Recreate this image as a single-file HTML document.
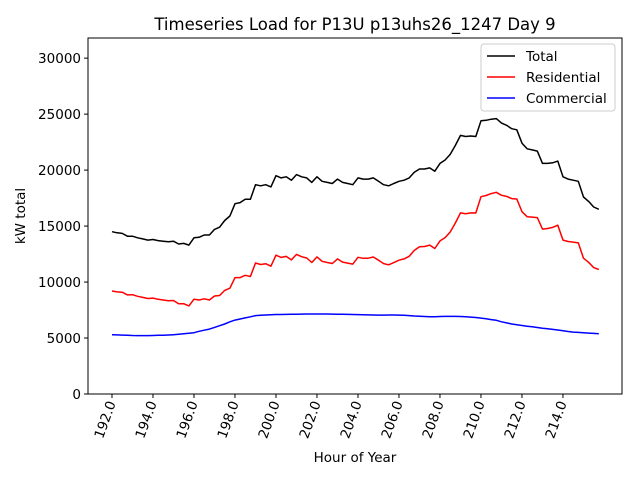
<!DOCTYPE html>
<html><head><meta charset="utf-8"><style>
body{margin:0;background:#fff}
svg text{font-family:"DejaVu Sans","Liberation Sans",sans-serif;fill:#000}
</style></head><body>
<svg id="chart" width="640" height="480">
<rect width="640" height="480" fill="#fff"/>
<text x="355" y="30" font-size="16.5" text-anchor="middle">Timeseries Load for P13U p13uhs26_1247  Day 9</text>
<g id="plot"></g>
<text x="355" y="462" font-size="13.5" text-anchor="middle">Hour of Year</text>
<text transform="translate(25,216) rotate(-90)" font-size="13.5" text-anchor="middle">kW total</text>
</svg>
<script>
const total=[14500,14400,14350,14100,14100,13950,13850,13750,13800,13700,13650,13600,13650,13400,13450,13300,13950,14000,14200,14200,14700,14900,15500,15900,17000,17100,17400,17400,18700,18600,18700,18500,19500,19300,19400,19100,19600,19400,19300,18900,19400,19000,18900,18800,19200,18900,18800,18700,19300,19200,19200,19300,19000,18700,18600,18800,19000,19100,19300,19800,20100,20100,20200,19900,20600,20900,21400,22200,23100,23000,23050,23000,24400,24450,24550,24600,24200,24000,23700,23600,22400,21900,21800,21700,20600,20600,20650,20800,19400,19200,19100,19000,17600,17200,16700,16500];
const residential=[9200,9120,9090,8850,8870,8730,8630,8530,8570,8460,8400,8330,8350,8070,8070,7870,8470,8400,8500,8400,8750,8800,9250,9450,10400,10400,10600,10500,11700,11570,11640,11420,12400,12200,12290,11980,12470,12260,12150,11750,12250,11850,11750,11660,12070,11780,11690,11600,12210,12120,12130,12240,11950,11650,11540,11740,11950,12070,12300,12830,13150,13180,13300,13000,13680,13970,14470,15270,16180,16100,16180,16170,17620,17730,17900,18020,17750,17650,17450,17420,16280,15840,15800,15760,14730,14780,14880,15080,13750,13620,13570,13500,12130,11760,11290,11120];
const commercial=[5300,5280,5260,5250,5230,5220,5220,5220,5230,5240,5250,5270,5300,5330,5380,5430,5480,5600,5700,5800,5950,6100,6250,6450,6600,6700,6800,6900,7000,7030,7060,7080,7100,7100,7110,7120,7130,7140,7150,7150,7150,7150,7150,7140,7130,7120,7110,7100,7090,7080,7070,7060,7050,7050,7060,7060,7050,7030,7000,6970,6950,6920,6900,6900,6920,6930,6930,6930,6920,6900,6870,6830,6780,6720,6650,6580,6450,6350,6250,6180,6120,6060,6000,5940,5870,5820,5770,5720,5650,5580,5530,5500,5470,5440,5410,5380];
const startHour=192, stepHours=0.25;
const xTicks=[192,194,196,198,200,202,204,206,208,210,212,214];
const yTicks=[0,5000,10000,15000,20000,25000,30000];
const L=88,R=622,T=38,B=394,xMin=190.83,xMax=216.88,yMin=0,yMax=31800;
const X=v=>L+(v-xMin)/(xMax-xMin)*(R-L);
const Y=v=>B-(v-yMin)/(yMax-yMin)*(B-T);
const NS='http://www.w3.org/2000/svg';
const g=document.getElementById('plot');
function mk(t,a){const e=document.createElementNS(NS,t);for(const k in a)e.setAttribute(k,a[k]);g.appendChild(e);return e;}
function line(vals,color,name){
  const pts=vals.map((v,i)=>X(startHour+i*stepHours).toFixed(1)+','+Y(v).toFixed(1)).join(' ');
  const p=mk('polyline',{points:pts,fill:'none',stroke:color,'stroke-width':1.5,'stroke-linejoin':'round'});
  
  
}
line(total,'#000','total-line');
line(residential,'#f00','residential-line');
line(commercial,'#00f','commercial-line');
const frame=mk('rect',{x:L,y:T,width:R-L,height:B-T,fill:'none',stroke:'#000','stroke-width':1});


xTicks.forEach(t=>{
  const x=X(t);
  const tk=mk('line',{x1:x,y1:B,x2:x,y2:B+4,stroke:'#000'});
  
  
  const tx=mk('text',{transform:`translate(${x+4},${B+9}) rotate(-70)`,'font-size':13.5,'text-anchor':'end'});
  tx.textContent=t.toFixed(1);
  
  
});
yTicks.forEach(t=>{
  const y=Y(t);
  const tk=mk('line',{x1:L-4,y1:y,x2:L,y2:y,stroke:'#000'});
  
  
  const tx=mk('text',{x:L-7,y:y+5,'font-size':13.5,'text-anchor':'end'});
  tx.textContent=t;
  
  
});
const lg=mk('rect',{x:481,y:44,width:134,height:67,rx:3,fill:'#fff',stroke:'#ccc'});


[['Total','#000',56],['Residential','#f00',77],['Commercial','#00f',98]].forEach(([n,c,y])=>{
  const l=mk('line',{x1:487,y1:y,x2:515,y2:y,stroke:c,'stroke-width':1.5});
  
  
  const t=mk('text',{x:526,y:y+5,'font-size':13.5});
  t.textContent=n;
  
  
});
</script>
</body></html>
